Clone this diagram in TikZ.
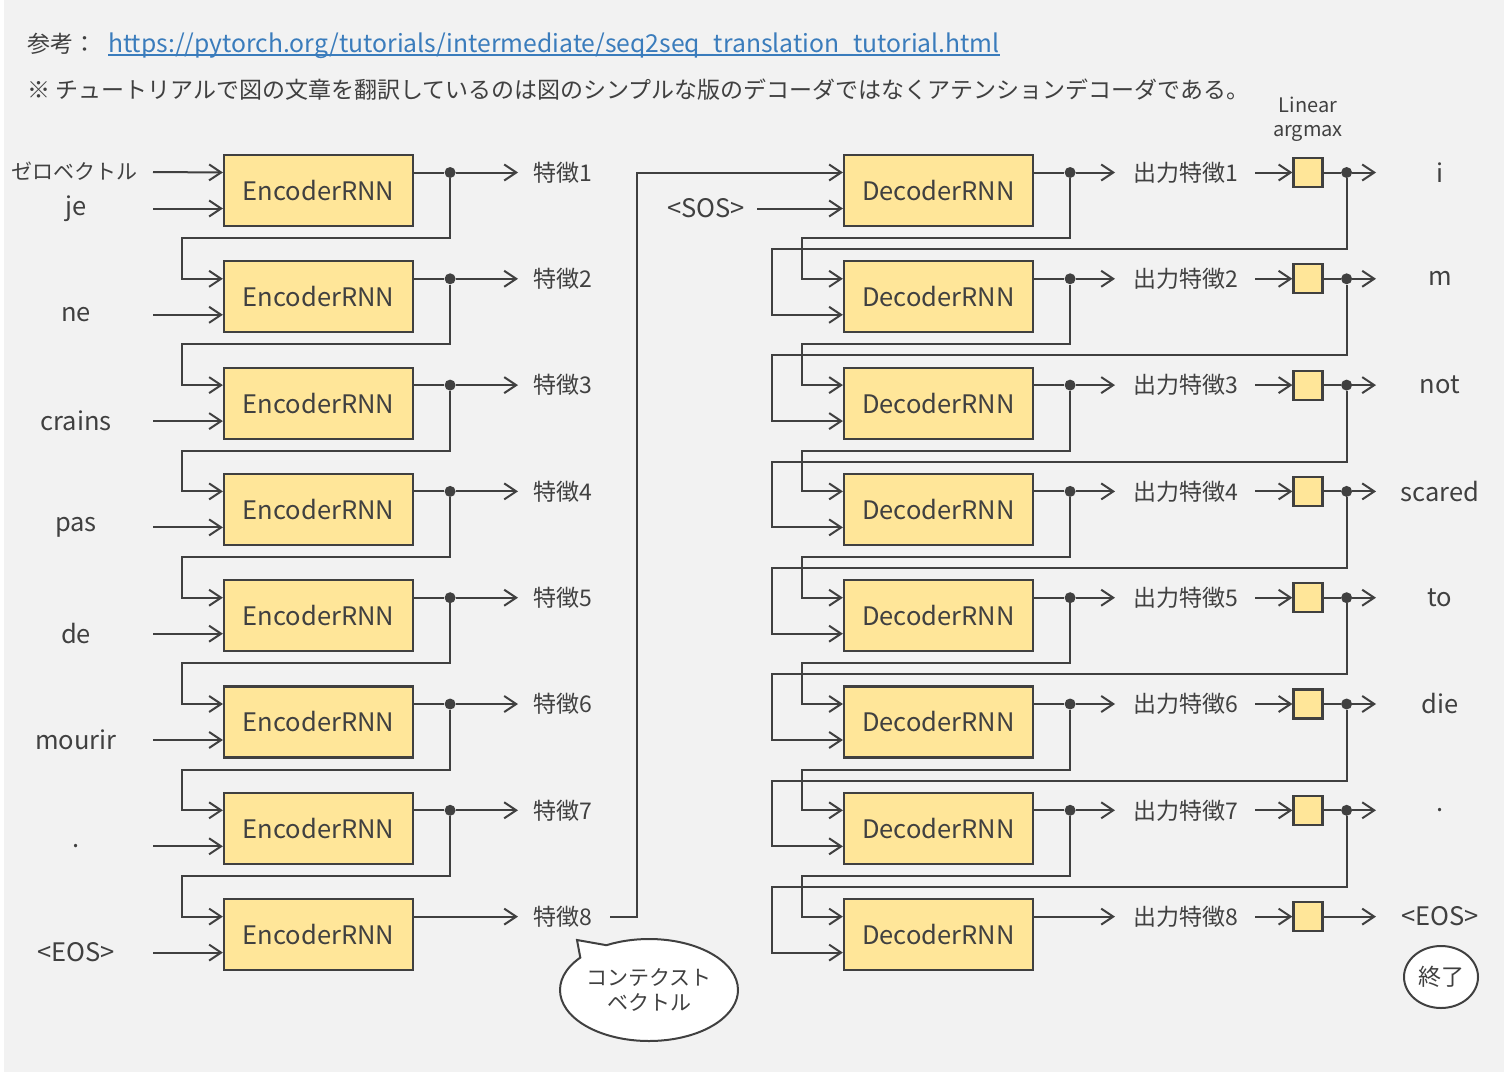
\documentclass[tikz,border=0pt]{standalone}
\usepackage{fontspec}
\setmainfont{Noto Sans CJK JP}
\usetikzlibrary{calc,arrows.meta,shapes.geometric,shapes.callouts}

\definecolor{ink}{RGB}{64,64,64}
\definecolor{paper}{RGB}{242,242,242}
\definecolor{boxfill}{RGB}{255,230,153}
\definecolor{linkcol}{RGB}{58,124,188}

\begin{document}
\begin{tikzpicture}[x=1pt, y=-1pt,
  rnn/.style={draw=ink, line width=2.2pt, fill=boxfill, minimum width=189pt,
    minimum height=71pt, inner sep=0pt, text=ink, font=\fontsize{25.5}{30}\selectfont},
  lin/.style={draw=ink, line width=2.2pt, fill=boxfill, minimum size=29pt, inner sep=0pt},
  jp/.style={text=ink, inner sep=0pt, font=\fontsize{23}{27}\selectfont},
  lat/.style={text=ink, inner sep=0pt, font=\fontsize{25.5}{30}\selectfont},
  wire/.style={draw=ink, line width=2pt},
  feed/.style={wire, -{Straight Barb[length=12pt,width=16pt]}},
  dot/.style={circle, fill=ink, inner sep=0pt, minimum size=11pt}]

% ----- Canvas -----
\useasboundingbox (0,0) rectangle (1504,1076);
\fill[white] (0,0) rectangle (1504,1076);
\fill[paper] (4,0) rectangle (1504,1072);

% ----- Parameters -----
\def\dy{106.3} % row pitch

% ----- Header -----
\node[jp, anchor=base west] (ref) at (27,52) {参考：};
\node[text=linkcol, inner sep=0pt, font=\fontsize{24.7}{28}\selectfont, anchor=base west]
  (url) at (108,52)
  {https://pytorch.org/tutorials/intermediate/seq2seq\_translation\_tutorial.html};
\draw[linkcol, line width=1.5pt] ([yshift=-3pt]url.base west) -- ([yshift=-3pt]url.base east);
\node[jp, anchor=base west] (note) at (27,98)
  {※ チュートリアルで図の文章を翻訳しているのは図のシンプルな版のデコーダではなくアテンションデコーダである。};

% ----- Encoder column -----
\foreach \i/\w in {1/je,2/ne,3/crains,4/pas,5/de,6/mourir,7/.,8/{<EOS>}} {
  \pgfmathsetmacro{\yc}{190.5+(\i-1)*\dy}
  \node[rnn] (enc\i) at (318.5,\yc) {EncoderRNN};
  \coordinate (etop\i) at ($(enc\i.west)+(0,-18)$);
  \coordinate (ebot\i) at ($(enc\i.west)+(0,18)$);
  \coordinate (src\i) at (153,\yc+18);
  \node[lat] (srcw\i) at (76,\yc+18) {\w};
  \draw[feed] (src\i) -- (ebot\i);
  \node[jp, anchor=west] (feat\i) at (533,\yc-18) {特徴\i};
}

% zero vector into the first step
\node[jp, font=\fontsize{21}{25}\selectfont] (zero) at (75,171) {ゼロベクトル};
\coordinate (src0) at (153,172);
\draw[feed] (src0) -- (etop1);

% hidden state passed down
\foreach \i in {1,...,7} {
  \pgfmathtruncatemacro{\j}{\i+1}
  \node[dot] (ed\i) at ($(enc\i.east)+(36,-18)$) {};
  \draw[wire] (etop\i -| enc\i.east) -- (ed\i);
  \draw[feed] (ed\i) -- ([xshift=-15pt]feat\i.west);
  \draw[feed] (ed\i) -- ++(0,65.5) -| ([xshift=-41pt]etop\j) -- (etop\j);
}
\draw[feed] (etop8 -| enc8.east) -- ([xshift=-15pt]feat8.west);

% ----- Decoder column -----
\foreach \i/\w in {1/i,2/m,3/not,4/scared,5/to,6/die,7/.,8/{<EOS>}} {
  \pgfmathsetmacro{\yc}{190.5+(\i-1)*\dy}
  \node[rnn] (dec\i) at (938.5,\yc) {DecoderRNN};
  \coordinate (dtop\i) at ($(dec\i.west)+(0,-18)$);
  \coordinate (dbot\i) at ($(dec\i.west)+(0,18)$);
  \node[jp, anchor=west] (out\i) at (1133,\yc-18) {出力特徴\i};
  \node[lin] (lin\i) at (1308,\yc-18) {};
  \draw[feed] ([xshift=17pt]out\i.east) -- (lin\i);
  \coordinate (tend\i) at (1376,\yc-18);
  \node[lat] (tgt\i) at (1440,\yc-18) {\w};
}

% context vector into the first step
\draw[feed] ([xshift=18pt]feat8.east) -| ([xshift=-206pt]dtop1) -- (dtop1);
\node[lat] (sos) at (706,208.5) {<SOS>};
\draw[feed] ([xshift=12pt]sos.east) -- (dbot1);

% hidden state and chosen word passed down
\foreach \i in {1,...,7} {
  \pgfmathtruncatemacro{\j}{\i+1}
  \node[dot] (dd\i) at ($(dec\i.east)+(36,-18)$) {};
  \node[dot] (td\i) at ($(lin\i.east)+(23,0)$) {};
  \draw[wire] (dtop\i -| dec\i.east) -- (dd\i);
  \draw[feed] (dd\i) -- ([xshift=-18pt]out\i.west);
  \draw[wire] (lin\i) -- (td\i);
  \draw[feed] (td\i) -- (tend\i);
  \draw[feed] (dd\i) -- ++(0,65.5) -| ([xshift=-41pt]dtop\j) -- (dtop\j);
  \draw[feed] (td\i) -- ++(0,76.5) -| ([xshift=-71pt]dbot\j) -- (dbot\j);
}
\draw[feed] (dtop8 -| dec8.east) -- ([xshift=-18pt]out8.west);
\draw[feed] (lin8) -- (tend8);

% ----- Notes -----
\node[text=ink, inner sep=0pt, align=center, font=\fontsize{20}{24}\selectfont]
  (linlab) at (1308,119) {Linear\\argmax};
\node[ellipse callout, draw=ink, line width=2pt, fill=white, inner sep=0pt,
  minimum width=178pt, minimum height=102pt, callout pointer arc=22,
  callout absolute pointer={(577,940)}, text=ink, align=center,
  font=\fontsize{21}{25}\selectfont] (ctx) at (649,990) {コンテクスト\\ベクトル};
\node[ellipse, draw=ink, line width=2pt, fill=white, minimum width=74pt,
  minimum height=62pt, jp] (fin) at (1441,977) {終了};

\end{tikzpicture}
\end{document}
